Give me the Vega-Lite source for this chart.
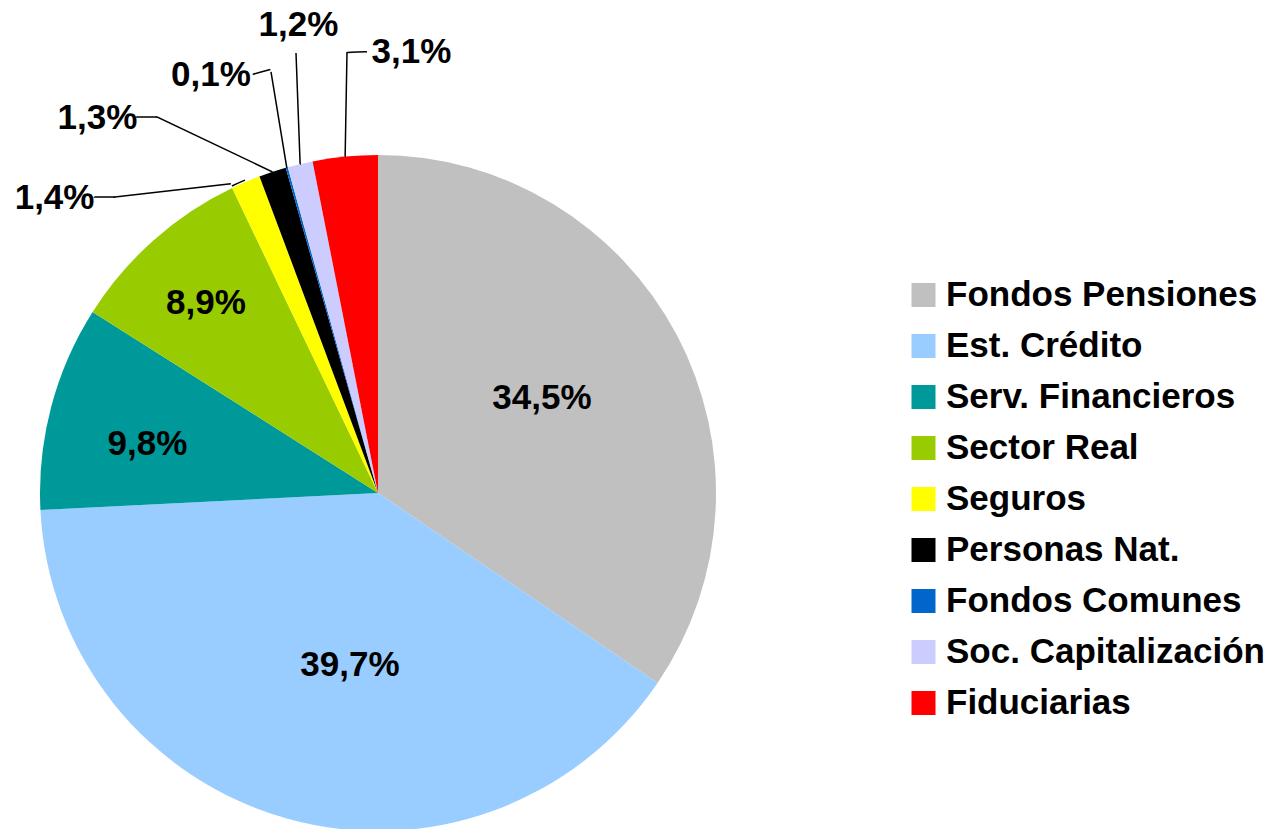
{
  "$schema": "https://vega.github.io/schema/vega-lite/v6.json",
  "width": 756,
  "height": 986,
  "autosize": {"type": "none"},
  "padding": {"left": 0, "top": 0, "right": 512, "bottom": 0},
  "background": "white",
  "config": {"view": {"stroke": null}, "text": {"font": "Liberation Sans"}},
  "data": {"values": [
    {"cat": "Fondos Pensiones", "value": 34.5, "label": "34,5%", "rank": 1},
    {"cat": "Est. Crédito", "value": 39.7, "label": "39,7%", "rank": 2},
    {"cat": "Serv. Financieros", "value": 9.8, "label": "9,8%", "rank": 3},
    {"cat": "Sector Real", "value": 8.9, "label": "8,9%", "rank": 4},
    {"cat": "Seguros", "value": 1.4, "label": "1,4%", "rank": 5},
    {"cat": "Personas Nat.", "value": 1.3, "label": "1,3%", "rank": 6},
    {"cat": "Fondos Comunes", "value": 0.1, "label": "0,1%", "rank": 7},
    {"cat": "Soc. Capitalización", "value": 1.2, "label": "1,2%", "rank": 8},
    {"cat": "Fiduciarias", "value": 3.1, "label": "3,1%", "rank": 9}
  ]},
  "encoding": {
    "theta": {"field": "value", "type": "quantitative", "stack": true},
    "order": {"field": "rank", "type": "quantitative"},
    "detail": {"field": "cat", "type": "nominal"}
  },
  "layer": [
    {
      "mark": {"type": "arc", "radius": 338},
      "encoding": {
        "color": {
          "field": "cat", "type": "nominal",
          "scale": {
            "domain": ["Fondos Pensiones", "Est. Crédito", "Serv. Financieros", "Sector Real", "Seguros", "Personas Nat.", "Fondos Comunes", "Soc. Capitalización", "Fiduciarias"],
            "range": ["#C0C0C0", "#99CCFF", "#009999", "#99CC00", "#FFFF00", "#000000", "#0066CC", "#CCCCFF", "#FF0000"]
          },
          "legend": {
            "title": null, "orient": "none", "legendX": 906, "legendY": 277.5, "padding": 0,
            "labelFont": "Liberation Sans", "labelFontSize": 35, "labelFontWeight": "bold", "labelColor": "#000000",
            "labelLimit": 500, "labelOffset": 5,
            "symbolType": "square", "symbolSize": 576, "symbolStrokeWidth": 0, "symbolOpacity": 1,
            "rowPadding": 15.0
          }
        }
      }
    },
    {"mark": {"type": "arc", "filled": false, "stroke": "black", "strokeWidth": 1.5, "padAngle": 0.03246, "radius": 340, "radius2": 340, "thetaOffset": -0.02101},
     "encoding": {"strokeOpacity": {"condition": {"test": "datum.cat === 'Seguros'", "value": 1}, "value": 0}}},
    {"mark": {"type": "arc", "filled": false, "stroke": "black", "strokeWidth": 1.5, "padAngle": 1.33451, "radius": 396, "radius2": 342.5, "thetaOffset": 2.43067, "strokeDash": [0, 228.6, 116.9, 5000]},
     "encoding": {"strokeOpacity": {"condition": {"test": "datum.cat === 'Est. Crédito'", "value": 1}, "value": 0}}},
    {"mark": {"type": "arc", "filled": false, "stroke": "black", "strokeWidth": 1.5, "padAngle": 1.092792, "radius": 409.5, "radius2": 396, "thetaOffset": 4.71239, "strokeDash": [0, 225.8, 20.2, 5000]},
     "encoding": {"strokeOpacity": {"condition": {"test": "datum.cat === 'Fondos Pensiones'", "value": 1}, "value": 0}}},
    {"mark": {"type": "arc", "filled": false, "stroke": "black", "strokeWidth": 1.5, "padAngle": 0.919364, "radius": 436.13, "radius2": 338, "thetaOffset": 5.15582, "strokeDash": [0, 425.3, 128.2, 5000]},
     "encoding": {"strokeOpacity": {"condition": {"test": "datum.cat === 'Fondos Pensiones'", "value": 1}, "value": 0}}},
    {"mark": {"type": "arc", "filled": false, "stroke": "black", "strokeWidth": 1.5, "padAngle": 1.292912, "radius": 446.6, "radius2": 436.1, "thetaOffset": 2.54469, "strokeDash": [0, 219.8, 20.3, 5000]},
     "encoding": {"strokeOpacity": {"condition": {"test": "datum.cat === 'Est. Crédito'", "value": 1}, "value": 0}}},
    {"mark": {"type": "arc", "filled": false, "stroke": "black", "strokeWidth": 1.5, "padAngle": 0.134766, "radius": 434.4, "radius2": 338, "thetaOffset": 0.28264, "strokeDash": [0, 380.0, 5000, 10]},
     "encoding": {"strokeOpacity": {"condition": {"test": "datum.cat === 'Sector Real'", "value": 1}, "value": 0}}},
    {"mark": {"type": "arc", "filled": false, "stroke": "black", "strokeWidth": 1.5, "padAngle": 0.03258, "radius": 437, "radius2": 437, "thetaOffset": 0.13229},
     "encoding": {"strokeOpacity": {"condition": {"test": "datum.cat === 'Seguros'", "value": 1}, "value": 0}}},
    {"mark": {"type": "arc", "filled": false, "stroke": "black", "strokeWidth": 1.5, "padAngle": 0.234454, "radius": 447.58, "radius2": 338, "thetaOffset": 0.40895, "strokeDash": [0, 286.5, 5000, 10]},
     "encoding": {"strokeOpacity": {"condition": {"test": "datum.cat === 'Sector Real'", "value": 1}, "value": 0}}},
    {"mark": {"type": "arc", "filled": false, "stroke": "black", "strokeWidth": 1.5, "padAngle": 0.13970, "radius": 442.1, "radius2": 338, "thetaOffset": 0.46389, "strokeDash": [0, 384.9, 5000, 10]},
     "encoding": {"strokeOpacity": {"condition": {"test": "datum.cat === 'Sector Real'", "value": 1}, "value": 0}}},
    {"mark": {"type": "arc", "filled": false, "stroke": "black", "strokeWidth": 1.5, "padAngle": 0.10572, "radius": 441.5, "radius2": 441.5, "thetaOffset": 0.04984},
     "encoding": {"strokeOpacity": {"condition": {"test": "datum.cat === 'Fiduciarias'", "value": 1}, "value": 0}}},
    {"mark": {"type": "text", "radius": 189.5, "thetaOffset": -0.0384, "fontSize": 35, "fontWeight": "bold", "color": "black", "align": "center", "baseline": "middle"},
     "encoding": {"text": {"condition": {"test": "datum.cat === 'Fondos Pensiones'", "field": "label", "type": "nominal"}, "value": ""}}},
    {"mark": {"type": "text", "radius": 174.3, "thetaOffset": -0.1118, "fontSize": 35, "fontWeight": "bold", "color": "black", "align": "center", "baseline": "middle"},
     "encoding": {"text": {"condition": {"test": "datum.cat === 'Est. Crédito'", "field": "label", "type": "nominal"}, "value": ""}}},
    {"mark": {"type": "text", "radius": 235.7, "thetaOffset": -0.0481, "fontSize": 35, "fontWeight": "bold", "color": "black", "align": "center", "baseline": "middle"},
     "encoding": {"text": {"condition": {"test": "datum.cat === 'Serv. Financieros'", "field": "label", "type": "nominal"}, "value": ""}}},
    {"mark": {"type": "text", "radius": 256.3, "thetaOffset": -0.0100, "fontSize": 35, "fontWeight": "bold", "color": "black", "align": "center", "baseline": "middle"},
     "encoding": {"text": {"condition": {"test": "datum.cat === 'Sector Real'", "field": "label", "type": "nominal"}, "value": ""}}},
    {"mark": {"type": "text", "radius": 438.1, "thetaOffset": -0.4284, "fontSize": 35, "fontWeight": "bold", "color": "black", "align": "center", "baseline": "middle"},
     "encoding": {"text": {"condition": {"test": "datum.cat === 'Seguros'", "field": "label", "type": "nominal"}, "value": ""}}},
    {"mark": {"type": "text", "radius": 468.3, "thetaOffset": -0.3250, "fontSize": 35, "fontWeight": "bold", "color": "black", "align": "center", "baseline": "middle"},
     "encoding": {"text": {"condition": {"test": "datum.cat === 'Personas Nat.'", "field": "label", "type": "nominal"}, "value": ""}}},
    {"mark": {"type": "text", "radius": 450.1, "thetaOffset": -0.1069, "fontSize": 35, "fontWeight": "bold", "color": "black", "align": "center", "baseline": "middle"},
     "encoding": {"text": {"condition": {"test": "datum.cat === 'Fondos Comunes'", "field": "label", "type": "nominal"}, "value": ""}}},
    {"mark": {"type": "text", "radius": 474.7, "thetaOffset": 0.0642, "fontSize": 35, "fontWeight": "bold", "color": "black", "align": "center", "baseline": "middle"},
     "encoding": {"text": {"condition": {"test": "datum.cat === 'Soc. Capitalización'", "field": "label", "type": "nominal"}, "value": ""}}},
    {"mark": {"type": "text", "radius": 441.8, "thetaOffset": 0.1733, "fontSize": 35, "fontWeight": "bold", "color": "black", "align": "center", "baseline": "middle"},
     "encoding": {"text": {"condition": {"test": "datum.cat === 'Fiduciarias'", "field": "label", "type": "nominal"}, "value": ""}}}
  ]
}
